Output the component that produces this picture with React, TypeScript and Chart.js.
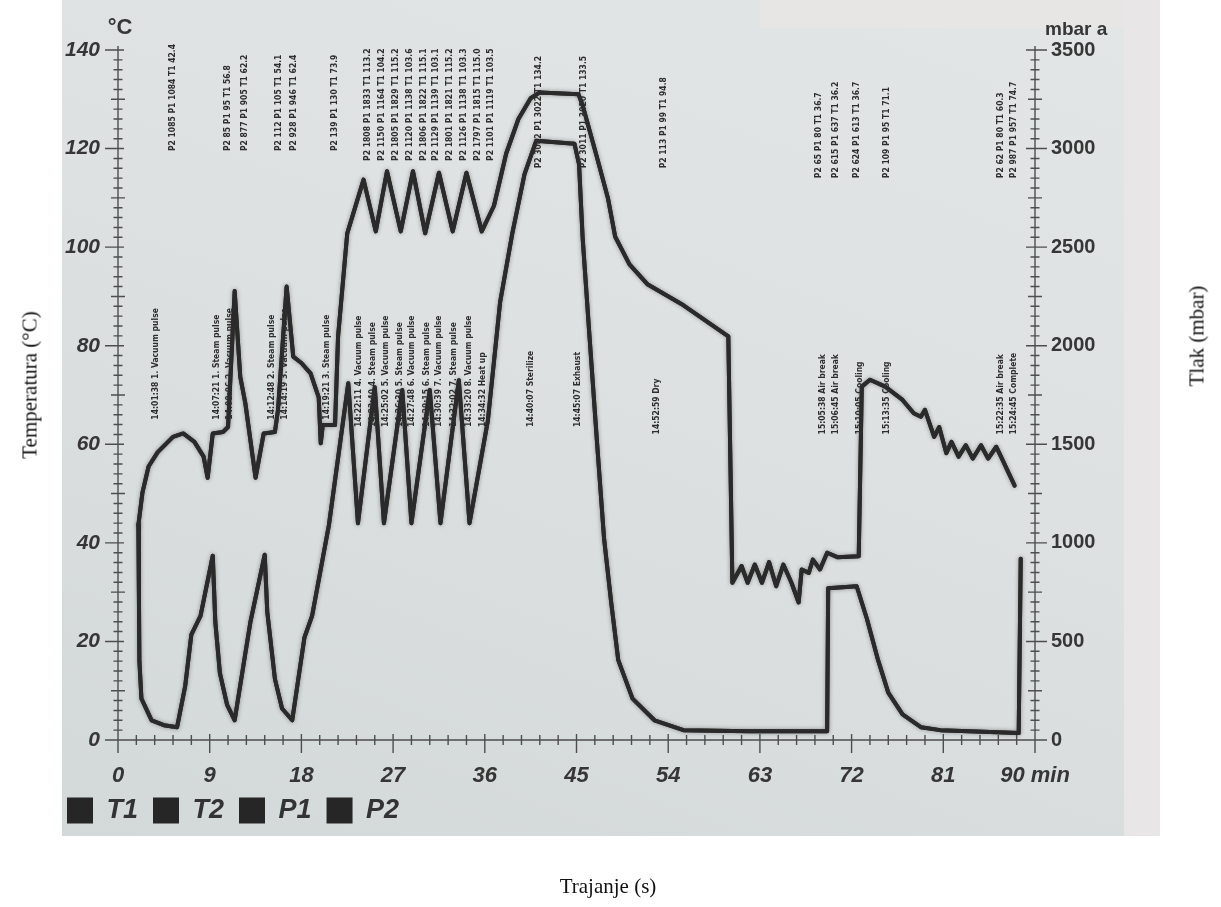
import React, { useEffect, useRef } from 'react';
import { Chart, registerables } from 'chart.js';

Chart.register(...registerables);

// ---------------- data ----------------
// temperature curve, minutes -> °C
const tempTime = [
  2.0, 2.4, 3.0, 3.9, 5.4, 6.4, 7.5, 8.4, 8.8, 9.3,
  10.3, 10.8, 11.45, 12.0, 12.5, 13.5, 14.3, 15.4, 15.7, 16.55,
  17.2, 18.0, 18.9, 19.7, 19.9, 20.1, 21.3, 21.6, 22.5, 24.1,
  25.3, 26.4, 27.75, 28.95, 30.15, 31.5, 32.85, 34.2, 35.7, 36.9,
  38.1, 39.3, 40.5, 41.4, 45.2, 45.6, 47.0, 48.1, 48.8, 50.2,
  52.0, 55.5, 59.9, 60.3, 61.2, 61.8, 62.5, 63.2, 63.9, 64.6,
  65.3, 66.1, 66.8, 67.1, 67.8, 68.2, 68.9, 69.6, 70.6, 72.7,
  73.0, 73.8, 75.3, 77.0, 78.1, 78.8, 79.2, 80.1, 80.6, 81.3,
  81.8, 82.5, 83.2, 83.9, 84.7, 85.4, 86.2, 86.5, 88.0,
];
const tempValues = [
  43.6, 50.2, 55.5, 58.4, 61.5, 62.2, 60.5, 57.5, 53.2, 62.2,
  62.5, 63.5, 91.1, 73.7, 68.3, 53.2, 62.2, 62.5, 66.9, 92.0,
  77.8, 76.5, 74.4, 69.5, 60.2, 63.9, 63.9, 81.9, 102.8, 113.7,
  103.2, 115.4, 103.2, 115.4, 102.8, 115.1, 103.2, 115.1, 103.2, 108.4,
  119.0, 126.0, 130.2, 131.4, 131.0, 128.8, 118.3, 109.8, 102.1, 96.5,
  92.4, 88.2, 81.9, 31.9, 35.3, 31.9, 35.6, 31.9, 36.1, 31.2,
  35.6, 31.9, 27.9, 34.6, 33.9, 36.6, 34.6, 38.0, 37.1, 37.3,
  71.7, 73.1, 71.7, 69.0, 66.3, 65.6, 67.0, 61.5, 63.5, 58.2,
  60.5, 57.5, 59.8, 57.1, 59.8, 57.1, 59.5, 58.2, 51.6,
];

// pressure curve, minutes -> mbar a
const presTime = [
  2.0, 2.05, 2.1, 2.3, 3.3, 4.5, 5.8, 6.6, 7.2, 8.1,
  9.3, 9.55, 10.0, 10.7, 11.45, 12.5, 13.0, 14.4, 14.65, 15.4,
  16.1, 17.1, 18.3, 19.05, 20.7, 22.6, 23.55, 25.2, 26.1, 27.9,
  28.8, 30.6, 31.65, 33.45, 34.5, 36.3, 37.5, 38.7, 39.9, 41.05,
  44.8, 45.25, 45.6, 46.3, 47.0, 47.7, 48.4, 49.1, 50.5, 52.65,
  55.5, 62.0, 69.6, 69.7, 72.5, 73.5, 74.6, 75.6, 77.0, 78.8,
  80.7, 88.4, 88.6,
];
const presValues = [
  1090, 750, 400, 210, 100, 75, 65, 275, 535, 630,
  935, 600, 340, 180, 100, 440, 600, 940, 650, 310,
  160, 100, 520, 630, 1090, 1810, 1100, 1790, 1100, 1775,
  1100, 1775, 1100, 1825, 1100, 1620, 2220, 2570, 2870, 3040,
  3025, 2920, 2550, 2030, 1520, 1025, 700, 405, 210, 100,
  50, 45, 45, 770, 780, 615, 405, 240, 130, 65,
  50, 35, 920,
];

const timeTicks = [0, 9, 18, 27, 36, 45, 54, 63, 72, 81, 90];
const timeTickLabels = ['0', '9', '18', '27', '36', '45', '54', '63', '72', '81', '90 min'];
const seriesNames = ['T1', 'T2', 'P1', 'P2'];

// printed event log (rotated text on the chart paper)
const topNoteTimes = [5.4, 10.8, 12.4, 15.8, 17.3, 21.3, 24.5, 25.9, 27.3, 28.6, 30.0, 31.2, 32.6, 33.9, 35.3, 36.6, 41.3, 45.7, 53.6, 68.8, 70.4, 72.5, 75.5, 86.6, 87.9];
const topNoteTexts = [
  'P2 1085 P1 1084 T1 42.4',
  'P2 85 P1 95 T1 56.8',
  'P2 877 P1 905 T1 62.2',
  'P2 112 P1 105 T1 54.1',
  'P2 928 P1 946 T1 62.4',
  'P2 139 P1 130 T1 73.9',
  'P2 1808 P1 1833 T1 113.2',
  'P2 1150 P1 1164 T1 104.2',
  'P2 1805 P1 1829 T1 115.2',
  'P2 1120 P1 1138 T1 103.6',
  'P2 1806 P1 1822 T1 115.1',
  'P2 1129 P1 1139 T1 103.1',
  'P2 1801 P1 1821 T1 115.2',
  'P2 1126 P1 1138 T1 103.3',
  'P2 1797 P1 1815 T1 115.0',
  'P2 1101 P1 1119 T1 103.5',
  'P2 3042 P1 3022 T1 134.2',
  'P2 3011 P1 3020 T1 133.5',
  'P2 113 P1 99 T1 94.8',
  'P2 65 P1 80 T1 36.7',
  'P2 615 P1 637 T1 36.2',
  'P2 624 P1 613 T1 36.7',
  'P2 109 P1 95 T1 71.1',
  'P2 62 P1 80 T1 60.3',
  'P2 987 P1 957 T1 74.7',
];
const midNoteTimes = [3.7, 9.7, 11.0, 15.1, 16.4, 20.5, 23.6, 25.0, 26.3, 27.7, 28.8, 30.3, 31.5, 33.0, 34.4, 35.8, 40.5, 45.1, 52.9, 69.2, 70.4, 72.8, 75.5, 86.6, 87.9];
const midNoteTexts = [
  '14:01:38 1. Vacuum pulse',
  '14:07:21 1. Steam pulse',
  '14:09:06 2. Vacuum pulse',
  '14:12:48 2. Steam pulse',
  '14:14:19 3. Vacuum pulse',
  '14:19:21 3. Steam pulse',
  '14:22:11 4. Vacuum pulse',
  '14:23:40 4. Steam pulse',
  '14:25:02 5. Vacuum pulse',
  '14:26:30 5. Steam pulse',
  '14:27:48 6. Vacuum pulse',
  '14:29:15 6. Steam pulse',
  '14:30:39 7. Vacuum pulse',
  '14:32:02 7. Steam pulse',
  '14:33:20 8. Vacuum pulse',
  '14:34:32 Heat up',
  '14:40:07 Sterilize',
  '14:45:07 Exhaust',
  '14:52:59 Dry',
  '15:05:38 Air break',
  '15:06:45 Air break',
  '15:10:05 Cooling',
  '15:13:35 Cooling',
  '15:22:35 Air break',
  '15:24:45 Complete',
];

// ---------------- styling ----------------
const INK = '#2a2a2a';
const TEXT = '#363636';
const SANS = '"Liberation Sans", Arial, sans-serif';
const NOTE_FONT = 'bold 8.5px "DejaVu Sans Condensed", "Liberation Sans Narrow", "Liberation Sans", sans-serif';

const paperAxes = {
  id: 'paperAxes',
  beforeDatasetsDraw(chart: any) {
    const { ctx, chartArea: a, scales } = chart;
    const xs = scales.x;
    const ys = scales.y;
    const y1 = scales.y1;
    ctx.save();
    ctx.strokeStyle = '#4e4e4e';
    ctx.lineWidth = 1.4;
    ctx.beginPath();
    ctx.moveTo(a.left, a.top - 4);
    ctx.lineTo(a.left, a.bottom);
    ctx.moveTo(a.left, a.bottom);
    ctx.lineTo(a.right, a.bottom);
    ctx.moveTo(a.right, a.top - 4);
    ctx.lineTo(a.right, a.bottom);
    for (let v = 0; v <= 140; v += 2) {
      const py = ys.getPixelForValue(v);
      if (v % 20 === 0) { ctx.moveTo(a.left - 13, py); ctx.lineTo(a.left + 6, py); }
      else if (v % 10 === 0) { ctx.moveTo(a.left - 7, py); ctx.lineTo(a.left + 7, py); }
      else { ctx.moveTo(a.left - 4.5, py); ctx.lineTo(a.left + 4.5, py); }
    }
    for (let i = 0; i <= 50; i++) {
      const px = xs.getPixelForValue(i * 1.8);
      if (i % 5 === 0) { ctx.moveTo(px, a.bottom - 6); ctx.lineTo(px, a.bottom + 13); }
      else { ctx.moveTo(px, a.bottom - 5); ctx.lineTo(px, a.bottom + 5); }
    }
    for (let p = 0; p <= 3500; p += 50) {
      const py = y1.getPixelForValue(p);
      if (p % 500 === 0) { ctx.moveTo(a.right - 9, py); ctx.lineTo(a.right + 12, py); }
      else if (p % 250 === 0) { ctx.moveTo(a.right - 7, py); ctx.lineTo(a.right + 7, py); }
      else { ctx.moveTo(a.right - 4.5, py); ctx.lineTo(a.right + 4.5, py); }
    }
    ctx.stroke();
    ctx.restore();
  },
  afterDraw(chart: any) {
    const { ctx, chartArea: a, scales } = chart;
    const xs = scales.x;
    const ys = scales.y;
    ctx.save();
    ctx.fillStyle = TEXT;
    ctx.font = `bold 22px ${SANS}`;
    ctx.textAlign = 'center';
    ctx.textBaseline = 'middle';
    ctx.fillText('°C', a.left + 2, a.top - 22);
    ctx.font = `bold 19px ${SANS}`;
    ctx.textAlign = 'left';
    ctx.fillText('mbar a', a.right + 10, a.top - 20);

    ctx.font = NOTE_FONT;
    ctx.fillStyle = '#2e2e2e';
    ctx.textAlign = 'left';
    ctx.textBaseline = 'middle';
    const drawNote = (t: number, base: number, text: string) => {
      const px = xs.getPixelForValue(t);
      const py = ys.getPixelForValue(base);
      ctx.save();
      ctx.translate(px, py);
      ctx.rotate(-Math.PI / 2);
      ctx.fillText(text, 0, 0);
      ctx.restore();
    };
    topNoteTimes.forEach((t, i) => {
      const base = t < 22 ? 119.5 : t < 38 ? 117.5 : t < 60 ? 116 : 114;
      drawNote(t, base, topNoteTexts[i]);
    });
    midNoteTimes.forEach((t, i) => {
      const base = t < 22 ? 65 : t < 50 ? 63.5 : 62;
      drawNote(t, base, midNoteTexts[i]);
    });
    ctx.restore();
  },
  beforeDatasetDraw(chart: any, args: any) {
    const { ctx } = chart;
    ctx.save();
    if (args.index === 0 || args.index === 2) {
      ctx.shadowColor = 'rgba(40,40,40,0.45)';
      ctx.shadowBlur = 4;
    }
  },
  afterDatasetDraw(chart: any) {
    chart.ctx.restore();
  },
};

export default function App() {
  const canvasRef = useRef<HTMLCanvasElement | null>(null);

  useEffect(() => {
    const canvas = canvasRef.current;
    if (!canvas) return;
    const tPts = tempTime.map((t, i) => ({ x: t, y: tempValues[i] }));
    const pPts = presTime.map((t, i) => ({ x: t, y: presValues[i] }));
    const lineStyle = {
      borderColor: INK,
      backgroundColor: INK,
      borderWidth: 4,
      pointRadius: 0,
      tension: 0,
      borderJoinStyle: 'round' as const,
      borderCapStyle: 'round' as const,
    };
    const chart = new Chart(canvas, {
      type: 'line',
      data: {
        datasets: [
          { label: seriesNames[0], data: tPts, yAxisID: 'y', ...lineStyle },
          { label: seriesNames[1], data: tPts, yAxisID: 'y', ...lineStyle },
          { label: seriesNames[2], data: pPts, yAxisID: 'y1', ...lineStyle },
          { label: seriesNames[3], data: pPts, yAxisID: 'y1', ...lineStyle },
        ],
      },
      options: {
        animation: false,
        responsive: true,
        maintainAspectRatio: false,
        events: [],
        layout: { padding: { left: 52, right: 106, top: 50, bottom: 73 } },
        plugins: {
          tooltip: { enabled: false },
          title: { display: false },
          legend: {
            display: true,
            position: 'bottom',
            align: 'start',
            labels: {
              boxWidth: 26,
              boxHeight: 26,
              padding: 15,
              color: '#333',
              font: { family: SANS, size: 27, style: 'italic', weight: 'bold' },
              generateLabels: (c: any) =>
                (Chart.defaults.plugins.legend.labels.generateLabels as any)(c).map((l: any) => ({
                  ...l,
                  lineWidth: 0,
                  fillStyle: '#262626',
                  strokeStyle: '#262626',
                })),
            },
          },
        },
        scales: {
          x: {
            type: 'linear',
            min: 0,
            max: 90,
            grid: { display: false, drawTicks: false },
            border: { display: false },
            afterFit: (s: any) => { s.height = 42; },
            afterBuildTicks: (s: any) => { s.ticks = timeTicks.map((v) => ({ value: v })); },
            ticks: {
              autoSkip: false,
              maxRotation: 0,
              padding: 23,
              color: TEXT,
              font: { family: SANS, size: 22, weight: 'bold', style: 'italic' },
              callback: (v: any) => {
                const i = timeTicks.indexOf(Number(v));
                return i >= 0 ? timeTickLabels[i] : '';
              },
            },
          },
          y: {
            type: 'linear',
            position: 'left',
            min: 0,
            max: 140,
            grid: { display: false, drawTicks: false },
            border: { display: false },
            afterFit: (s: any) => { s.width = 66; },
            ticks: {
              stepSize: 20,
              padding: 18,
              color: TEXT,
              font: { family: SANS, size: 21, weight: 'bold', style: 'italic' },
              callback: (v: any) => String(v),
            },
          },
          y1: {
            type: 'linear',
            position: 'right',
            min: 0,
            max: 3500,
            grid: { display: false, drawTicks: false },
            border: { display: false },
            afterFit: (s: any) => { s.width = 80; },
            ticks: {
              stepSize: 500,
              padding: 16,
              color: TEXT,
              font: { family: SANS, size: 20, weight: 'bold' },
              callback: (v: any) => String(v),
            },
          },
        },
      },
      plugins: [paperAxes],
    } as any);
    return () => chart.destroy();
  }, []);

  const serif = '"Liberation Serif", "Times New Roman", serif';
  const rotated = (left: number, top: number): React.CSSProperties => ({
    position: 'absolute',
    left,
    top,
    transform: 'translate(-50%, -50%) rotate(-90deg)',
    whiteSpace: 'nowrap',
    fontFamily: serif,
    fontSize: 21,
    color: '#111',
  });

  return (
    <div style={{ position: 'fixed', left: 0, top: 0, width: 1221, height: 907, background: '#ffffff', overflow: 'hidden' }}>
      <div
        style={{
          position: 'absolute',
          left: 62,
          top: 0,
          width: 1098,
          height: 836,
          background: 'linear-gradient(200deg, #e3e6e6 0%, #dde1e1 45%, #d3d8d8 100%)',
        }}
      />
      <div style={{ position: 'absolute', left: 760, top: 0, width: 400, height: 28, background: '#e8e5e5' }} />
      <div style={{ position: 'absolute', left: 1124, top: 0, width: 36, height: 836, background: '#e8e6e6' }} />
      <div style={{ position: 'absolute', left: 0, top: 0, width: 1221, height: 907 }}>
        <canvas ref={canvasRef} />
      </div>
      <div style={rotated(30, 385)}>Temperatura (°C)</div>
      <div style={rotated(1197, 336)}>Tlak (mbar)</div>
      <div
        style={{
          position: 'absolute',
          left: 608,
          top: 886,
          transform: 'translate(-50%, -50%)',
          whiteSpace: 'nowrap',
          fontFamily: serif,
          fontSize: 21,
          color: '#111',
        }}
      >
        Trajanje (s)
      </div>
    </div>
  );
}
